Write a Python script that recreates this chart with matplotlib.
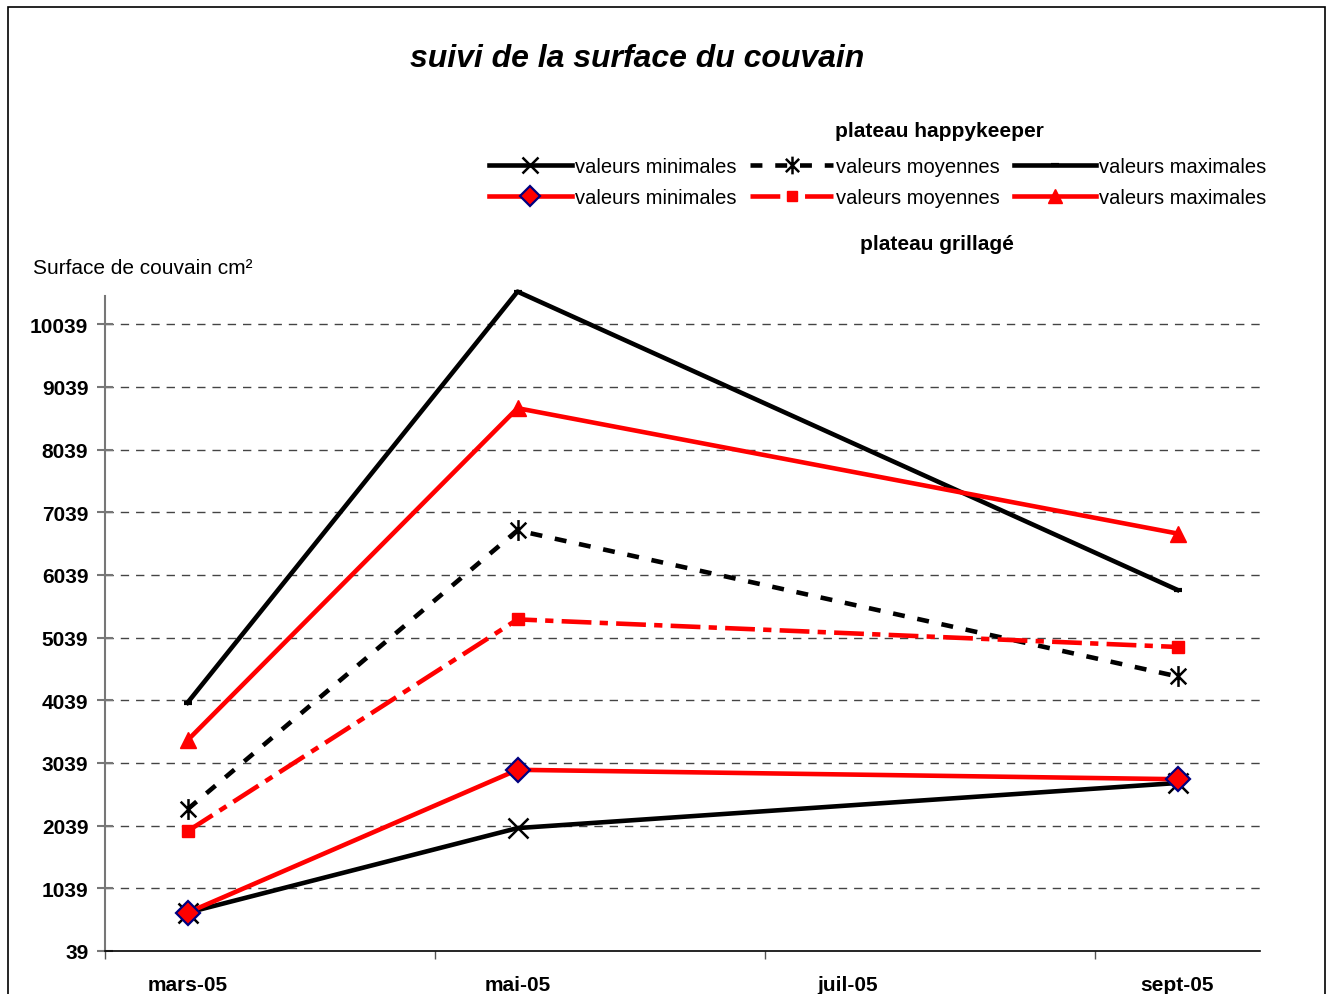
import matplotlib
matplotlib.use("Agg")
import matplotlib.pyplot as plt
from matplotlib.lines import Line2D
from matplotlib.path import Path
from matplotlib.patches import Rectangle

plt.rcParams['font.family'] = ['Liberation Sans', 'DejaVu Sans']

# months (3 = mars, 5 = mai, 9 = sept)
months = [3, 5, 9]
month_ticks = [3, 5, 7, 9]
month_labels = ["mars-05", "mai-05", "juil-05", "sept-05"]
y_ticks = [39, 1039, 2039, 3039, 4039, 5039, 6039, 7039, 8039, 9039, 10039]

# plateau happykeeper
hk_min = [650, 2000, 2720]
hk_moy = [2300, 6750, 4420]
hk_max = [4000, 10560, 5800]
# plateau grillagé
gr_min = [650, 2930, 2780]
gr_moy = [1950, 5330, 4890]
gr_max = [3400, 8700, 6700]

# Excel-like asterisk marker (x plus vertical bar)
ast = Path([(0, -1), (0, 1), (-0.75, -0.75), (0.75, 0.75), (-0.75, 0.75), (0.75, -0.75)],
           [Path.MOVETO, Path.LINETO, Path.MOVETO, Path.LINETO, Path.MOVETO, Path.LINETO])

W, H = 1327, 995
fig = plt.figure(figsize=(W / 100, H / 100), dpi=100)
ax = fig.add_axes([105 / W, 1 - 952 / H, 1155 / W, (952 - 297) / H])

lw = 3.3
s_hk_min = dict(color="black", lw=lw, marker="x", ms=14, mew=1.8, mec="black")
s_hk_moy = dict(color="black", lw=lw, ls=(0, (2.6, 2.8)), marker=ast, ms=15, mew=1.8,
                mec="black", mfc="none")
s_hk_max = dict(color="black", lw=lw, marker="_", ms=6, mew=3)
s_gr_min = dict(color="red", lw=lw, marker="D", ms=12, mfc="red", mec="#000080", mew=1.6)
s_gr_moy = dict(color="red", lw=lw, ls=(0, (6.5, 1.8, 1.8, 1.8)), marker="s", ms=8,
                mfc="red", mec="red")
s_gr_max = dict(color="red", lw=lw, marker="^", ms=12, mfc="red", mec="red")

ax.plot(months, hk_min, clip_on=False, zorder=3, **s_hk_min)
ax.plot(months, hk_moy, clip_on=False, zorder=3, **s_hk_moy)
ax.plot(months, hk_max, clip_on=False, zorder=3, **s_hk_max)
ax.plot(months, gr_min, clip_on=False, zorder=4, **s_gr_min)
ax.plot(months, gr_moy, clip_on=False, zorder=4, **s_gr_moy)
ax.plot(months, gr_max, clip_on=False, zorder=4, **s_gr_max)

ax.set_xlim(2.5, 9.5)
ax.set_ylim(39, 10490)

ax.set_xticks([2.5, 4.5, 6.5, 8.5])
ax.set_xticklabels([])
ax.set_xticks(month_ticks, minor=True)
ax.set_xticklabels(month_labels, minor=True, fontsize=15, fontweight="bold")
ax.tick_params(axis="x", which="major", direction="out", length=6, width=1, color="#555555")
ax.tick_params(axis="x", which="minor", length=0, pad=17)

ax.set_yticks(y_ticks)
ax.set_yticklabels([str(v) for v in y_ticks], fontsize=15, fontweight="bold")
ax.tick_params(axis="y", direction="inout", length=12, width=1.5, color="#777777", pad=6)

for v in y_ticks[1:]:
    ax.axhline(v, color="#444444", lw=1, ls=(0, (6, 5)), zorder=1)

for side in ("top", "right"):
    ax.spines[side].set_visible(False)
ax.spines["left"].set_color("#777777")
ax.spines["left"].set_linewidth(1.5)
ax.spines["bottom"].set_color("black")
ax.spines["bottom"].set_linewidth(1.2)

fig.text(637 / W, 1 - 59 / H, "suivi de la surface du couvain", fontsize=23,
         fontweight="bold", fontstyle="italic", ha="center", va="center")
fig.text(33 / W, 1 - 268 / H, "Surface de couvain cm²", fontsize=15, ha="left", va="center")
fig.text(939 / W, 1 - 132 / H, "plateau happykeeper", fontsize=15, fontweight="bold",
         ha="center", va="center")
fig.text(937 / W, 1 - 245 / H, "plateau grillagé", fontsize=15, fontweight="bold",
         ha="center", va="center")

handles = [Line2D([], [], **s_hk_min), Line2D([], [], **s_gr_min),
           Line2D([], [], **s_hk_moy), Line2D([], [], **s_gr_moy),
           Line2D([], [], **s_hk_max), Line2D([], [], **s_gr_max)]
labels = ["valeurs minimales", "valeurs minimales", "valeurs moyennes",
          "valeurs moyennes", "valeurs maximales", "valeurs maximales"]
fig.legend(handles, labels, ncol=3, loc="center left", bbox_to_anchor=(479 / W, 1 - 183 / H),
           frameon=False, fontsize=14.5, handlelength=4.1, handletextpad=0.15,
           columnspacing=0.7, labelspacing=0.58, markerscale=0.85, borderpad=0)

fig.patches.append(Rectangle((8 / W, -0.05), (1325 - 8) / W, 1.05 - 8 / H,
                             transform=fig.transFigure, fill=False, ec="black", lw=1.2))

fig.savefig("out.png", dpi=100)
